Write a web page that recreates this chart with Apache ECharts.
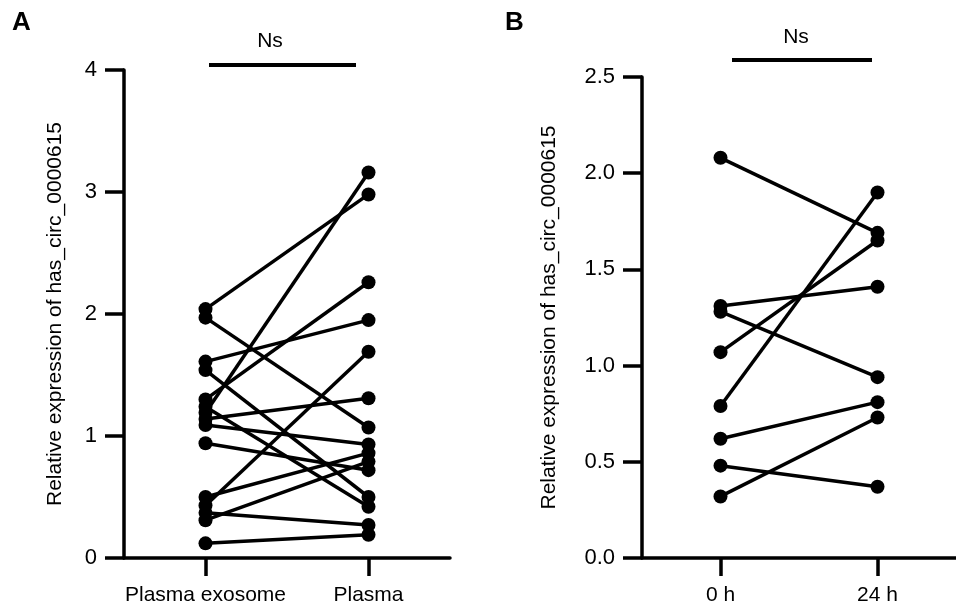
<!DOCTYPE html>
<html>
<head>
<meta charset="utf-8">
<title>has_circ_0000615</title>
<script src="https://cdn.jsdelivr.net/npm/echarts@6/dist/echarts.min.js"></script>
<style>
  html, body { margin: 0; padding: 0; background: #fff; }
  #main { width: 956px; height: 613px; }
</style>
</head>
<body>
<div id="main"></div>
<script>
// panel A: paired samples, plasma exosome vs plasma
const categoriesA = ['Plasma exosome', 'Plasma'];
const exosomeA = [2.04, 1.97, 1.61, 1.54, 1.30, 1.24, 1.19, 1.14, 1.09, 0.94, 0.50, 0.43, 0.37, 0.31, 0.12];
const plasmaA  = [2.98, 1.07, 1.95, 0.50, 2.26, 0.42, 3.16, 1.31, 0.93, 0.72, 0.86, 1.69, 0.27, 0.79, 0.19];
const ticksA = [0, 1, 2, 3, 4];

// panel B: 0 h vs 24 h
const categoriesB = ['0 h', '24 h'];
const hour0B  = [2.08, 1.31, 1.28, 1.07, 0.79, 0.62, 0.48, 0.32];
const hour24B = [1.69, 1.41, 0.94, 1.65, 1.90, 0.81, 0.37, 0.73];
const ticksB = [0, 0.5, 1, 1.5, 2, 2.5];

const FONT = 'Liberation Sans, Arial, sans-serif';
const BLACK = '#000';
const AXIS_W = 3.5;

function pairSeries(left, right, axisIdx) {
    let out = [];
    for (let i = 0; i < left.length; i++) {
        out.push({
            type: 'line',
            xAxisIndex: axisIdx,
            yAxisIndex: axisIdx,
            data: [left[i], right[i]],
            symbol: 'circle',
            symbolSize: 14,
            lineStyle: { color: BLACK, width: 3.5 },
            itemStyle: { color: BLACK },
            silent: true,
            animation: false
        });
    }
    return out;
}

function xAxisOf(cats, idx) {
    return {
        type: 'category',
        gridIndex: idx,
        data: cats,
        boundaryGap: true,
        axisLine: { lineStyle: { color: BLACK, width: AXIS_W } },
        axisTick: { show: true, interval: 0, alignWithLabel: true, length: 18, lineStyle: { color: BLACK, width: AXIS_W } },
        axisLabel: { interval: 0, color: BLACK, fontSize: 21, fontFamily: FONT, margin: 27 }
    };
}

function yAxisOf(ticks, idx, gap, digits) {
    return {
        type: 'value',
        gridIndex: idx,
        min: ticks[0],
        max: ticks[ticks.length - 1],
        interval: ticks[1] - ticks[0],
        name: 'Relative expression of has_circ_0000615',
        nameLocation: 'middle',
        nameGap: gap,
        nameTextStyle: { color: BLACK, fontSize: 21, fontFamily: FONT },
        axisLine: { show: true, lineStyle: { color: BLACK, width: AXIS_W } },
        axisTick: { show: true, length: 19, lineStyle: { color: BLACK, width: AXIS_W } },
        axisLabel: {
            color: BLACK, fontSize: 22, fontFamily: FONT, margin: 27,
            formatter: v => v.toFixed(digits)
        },
        splitLine: { show: false }
    };
}

let chart = echarts.init(document.getElementById('main'));
chart.setOption({
    backgroundColor: '#fff',
    animation: false,
    grid: [
        { left: 124, top: 70, width: 326, height: 488 },
        { left: 642, top: 77, width: 320, height: 481 }
    ],
    xAxis: [xAxisOf(categoriesA, 0), xAxisOf(categoriesB, 1)],
    yAxis: [yAxisOf(ticksA, 0, 58, 0), yAxisOf(ticksB, 1, 82, 1)],
    series: pairSeries(exosomeA, plasmaA, 0).concat(pairSeries(hour0B, hour24B, 1)),
    graphic: [
        { type: 'text', left: 12, top: 10, style: { text: 'A', font: 'bold 26px ' + FONT, fill: BLACK } },
        { type: 'text', left: 505, top: 10, style: { text: 'B', font: 'bold 26px ' + FONT, fill: BLACK } },
        // significance bars
        { type: 'text', x: 270, y: 41, style: { text: 'Ns', font: '21px ' + FONT, fill: BLACK, align: 'center', verticalAlign: 'middle' } },
        { type: 'line', shape: { x1: 209, y1: 65, x2: 356, y2: 65 }, style: { stroke: BLACK, lineWidth: 4 } },
        { type: 'text', x: 796, y: 37, style: { text: 'Ns', font: '21px ' + FONT, fill: BLACK, align: 'center', verticalAlign: 'middle' } },
        { type: 'line', shape: { x1: 732, y1: 60, x2: 872, y2: 60 }, style: { stroke: BLACK, lineWidth: 4 } }
    ]
});
</script>
</body>
</html>
